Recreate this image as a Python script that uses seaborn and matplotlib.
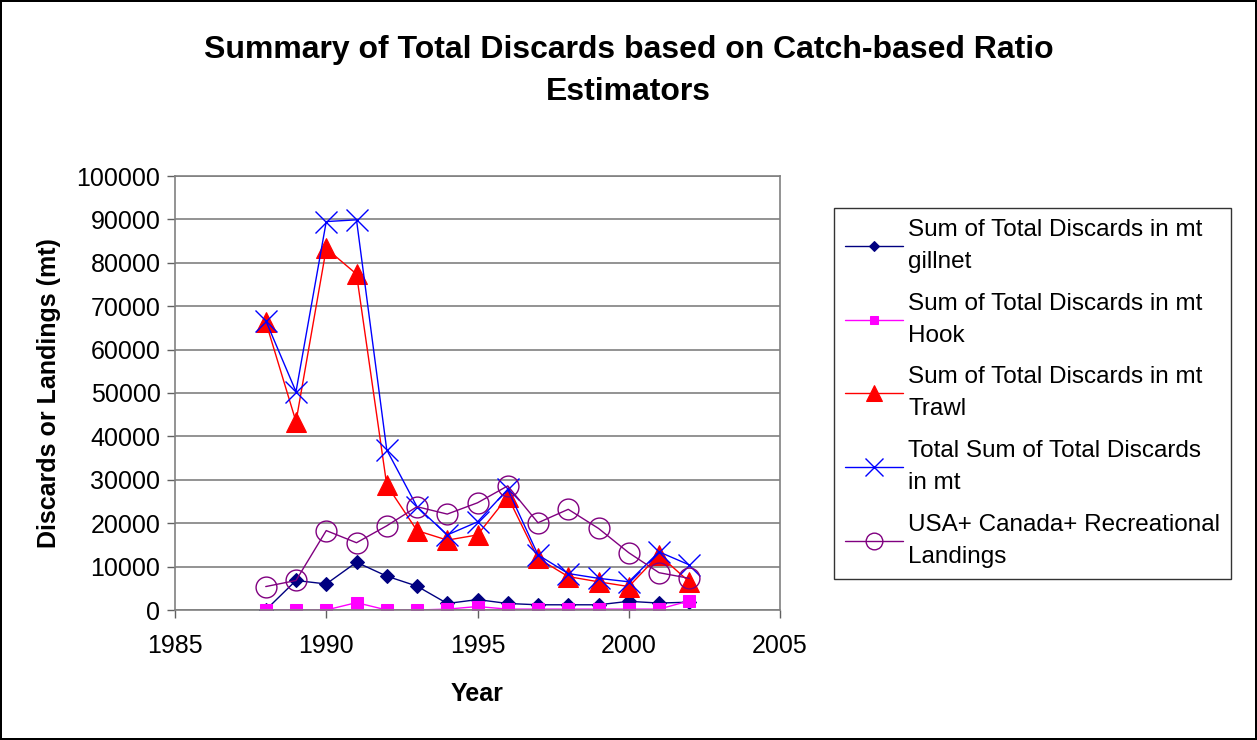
import seaborn as sns
import matplotlib.pyplot as plt
import pandas as pd

years = list(range(1988, 2003))
gillnet = [0, 6800, 6000, 11000, 7800, 5500, 1500, 2400, 1500, 1200, 1200, 1200, 2000, 1600, 1800]
hook = [0, 0, 0, 1700, 0, 0, 200, 800, 200, 200, 200, 200, 200, 200, 2100]
trawl = [66400, 43400, 83300, 77400, 28800, 18300, 16100, 17300, 26100, 11900, 7700, 6500, 5400, 12700, 6500]
total = [66700, 50300, 89500, 89900, 36900, 23800, 17300, 20300, 27800, 12700, 8400, 7300, 6500, 13400, 10400]
recreational = [5400, 6800, 18300, 15500, 19400, 23800, 22100, 24700, 28600, 20100, 23200, 18800, 13200, 8600, 7300]

df = pd.DataFrame({
    "Year": years,
    "gillnet": gillnet,
    "hook": hook,
    "trawl": trawl,
    "total": total,
    "rec": recreational,
})

sns.set_style("white")
plt.rcParams["font.family"] = ["Liberation Sans", "DejaVu Sans"]
plt.rcParams["text.color"] = "black"
plt.rcParams["axes.labelcolor"] = "black"

fig = plt.figure(figsize=(12.57, 7.4), dpi=100)
fig.patch.set_edgecolor("black")
fig.patch.set_linewidth(1.5)
ax = fig.add_axes([175 / 1257, 1 - 610 / 740, 605 / 1257, 434 / 740])

# series: column, label, colour, marker, marker size, filled
series = [
    ("gillnet", "Sum of Total Discards in mt\ngillnet", "#000080", "D", 7, True),
    ("hook", "Sum of Total Discards in mt\nHook", "#FF00FF", "s", 8, True),
    ("trawl", "Sum of Total Discards in mt\nTrawl", "#FF0000", "^", 15, True),
    ("total", "Total Sum of Total Discards\nin mt", "#0000FF", "x", 16, True),
    ("rec", "USA+ Canada+ Recreational\nLandings", "#800080", "o", 15, False),
]

for col, label, color, marker, ms, filled in series:
    kw = dict(marker=marker, markersize=ms, color=color, linewidth=1)
    if marker == "x":
        kw["markeredgewidth"] = 1.0
        kw["markeredgecolor"] = color
    elif filled:
        kw["markeredgecolor"] = color
        kw["markerfacecolor"] = color
    else:
        kw["markerfacecolor"] = "none"
        kw["markeredgecolor"] = color
        kw["markeredgewidth"] = 1.0
    sns.lineplot(data=df, x="Year", y=col, label=label, ax=ax, **kw)

ax.set_xlim(1985, 2005)
ax.set_ylim(0, 100000)
ax.set_xticks([1985, 1990, 1995, 2000, 2005])
ax.set_yticks(range(0, 100001, 10000))
ax.yaxis.grid(True, color="#808080", linewidth=1.2)
ax.set_axisbelow(True)
for side in ["top", "right", "bottom", "left"]:
    ax.spines[side].set_color("#808080")
    ax.spines[side].set_linewidth(1.2)
ax.tick_params(axis="both", labelsize=18, direction="out", length=5.5, width=1, color="#606060",
               labelcolor="black", left=True, bottom=True)
ax.tick_params(axis="x", pad=12)
ax.tick_params(axis="y", pad=5)
ax.set_xlabel("Year", fontsize=18, fontweight="bold", labelpad=17)
ax.set_ylabel("Discards or Landings (mt)", fontsize=18, fontweight="bold", labelpad=11)

fig.suptitle("Summary of Total Discards based on Catch-based Ratio\nEstimators",
             x=0.5, y=0.953, fontsize=23, fontweight="bold", linespacing=1.55)

ax.get_legend().remove()
handles, labels = ax.get_legend_handles_labels()
leg = fig.legend(handles, labels, loc="upper left", bbox_to_anchor=(834 / 1257, 1 - 208 / 740),
                 fontsize=17.5, frameon=True, fancybox=False, borderaxespad=0, markerscale=0.8,
                 handlelength=2.4, labelspacing=0.8, borderpad=0.45, handletextpad=0.2)
for t in leg.get_texts():
    t.set_linespacing(1.6)
leg.get_frame().set_edgecolor("black")
leg.get_frame().set_linewidth(1)

fig.savefig("out.png", dpi=100)
